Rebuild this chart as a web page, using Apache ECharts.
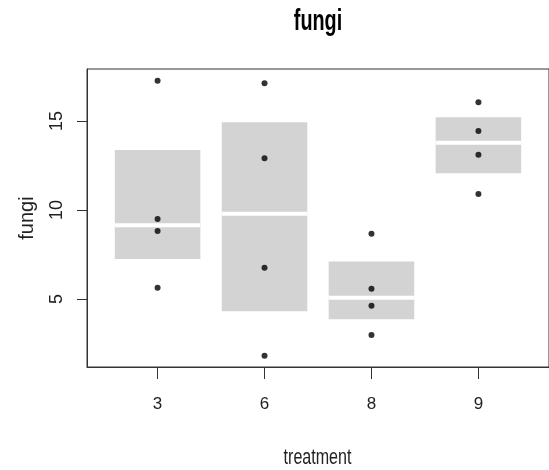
<!DOCTYPE html>
<html>
<head>
<meta charset="utf-8">
<script src="https://cdn.jsdelivr.net/npm/echarts@6/dist/echarts.min.js"></script>
<style>html,body{margin:0;padding:0;background:#fff}#c{width:549px;height:470px}</style>
</head>
<body>
<div id="c"></div>
<script>
var categories = ['3', '6', '8', '9'];
var boxLow = [7.25, 4.31, 3.86, 12.06];
var boxMid = [9.14, 9.79, 5.07, 13.78];
var boxHigh = [13.37, 14.93, 7.10, 15.21];
var pts3 = [17.26, 9.49, 8.82, 5.63];
var pts6 = [17.12, 12.90, 6.76, 1.81];
var pts8 = [8.67, 5.58, 4.62, 2.98];
var pts9 = [16.05, 14.44, 13.11, 10.90];
var yTicks = [5, 10, 15];
var titleText = 'fungi';
var xName = 'treatment';
var yName = 'fungi';

var pointGroups = [pts3, pts6, pts8, pts9];
var scatterData = [];
pointGroups.forEach(function (g, i) {
  g.forEach(function (v) { scatterData.push([i + 1, v]); });
});
var boxData = categories.map(function (c, i) { return [i + 1, boxLow[i], boxMid[i], boxHigh[i]]; });
var xPos = categories.map(function (c, i) { return i + 1; });

var chart = echarts.init(document.getElementById('c'), null, { renderer: 'canvas' });
var sans = '"Liberation Sans", Arial, sans-serif';
chart.setOption({
  animation: false,
  backgroundColor: '#fff',
  graphic: [
    { type: 'text', x: 318, y: 7, scaleX: 0.66, z: 10,
      style: { text: titleText, font: 'bold 30px "Liberation Sans", Arial, sans-serif', fill: '#000', align: 'center', verticalAlign: 'top' } },
    { type: 'text', x: 317.5, y: 458, scaleX: 0.73, z: 10,
      style: { text: xName, font: '22px "Liberation Sans", Arial, sans-serif', fill: '#222', align: 'center', verticalAlign: 'middle' } }
  ],
  grid: { left: 87, right: -1, top: 69, bottom: 103, show: true, borderColor: '#333', borderWidth: 1, backgroundColor: 'transparent' },
  xAxis: {
    type: 'value', min: 0.34, max: 4.66,
    axisLine: { show: true, onZero: false, lineStyle: { color: '#333', width: 1 } },
    axisTick: { show: true, length: 12, customValues: xPos, lineStyle: { color: '#333' } },
    axisLabel: { customValues: xPos, margin: 29, fontFamily: sans, fontSize: 17, color: '#222',
      formatter: function (v) { return categories[Math.round(v) - 1]; } },
    splitLine: { show: false }
  },
  yAxis: {
    type: 'value', min: 1.18, max: 17.92,
    name: yName, nameLocation: 'middle', nameRotate: 90, nameGap: 50,
    nameTextStyle: { fontFamily: sans, fontSize: 20, color: '#222' },
    axisLine: { show: true, onZero: false, lineStyle: { color: '#333', width: 1 } },
    axisTick: { show: true, length: 10, customValues: yTicks, lineStyle: { color: '#333' } },
    axisLabel: { customValues: yTicks, rotate: 90, margin: 21, fontFamily: sans, fontSize: 18, color: '#222' },
    splitLine: { show: false }
  },
  series: [
    {
      type: 'custom',
      data: boxData,
      encode: { x: 0, y: [1, 2, 3] },
      renderItem: function (params, api) {
        var x = api.value(0);
        var lo = api.coord([x - 0.4, api.value(1)]);
        var hi = api.coord([x + 0.4, api.value(3)]);
        var md = api.coord([x, api.value(2)]);
        return {
          type: 'group',
          children: [
            { type: 'rect', shape: { x: lo[0], y: hi[1], width: hi[0] - lo[0], height: lo[1] - hi[1] }, style: { fill: '#d3d3d3' } },
            { type: 'line', shape: { x1: lo[0], y1: md[1], x2: hi[0], y2: md[1] }, style: { stroke: '#fff', lineWidth: 4 } }
          ]
        };
      },
      z: 1
    },
    {
      type: 'scatter', data: scatterData, symbol: 'circle', symbolSize: 6,
      itemStyle: { color: '#000' }, z: 3
    }
  ]
});
</script>
</body>
</html>
